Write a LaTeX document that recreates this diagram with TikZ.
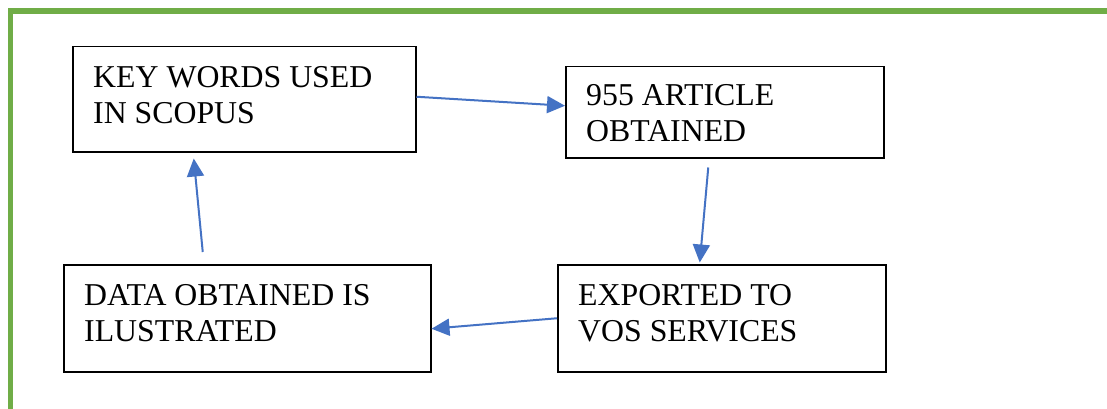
\documentclass[tikz,border=0pt]{standalone}
\usepackage{fontspec}
\setmainfont{Liberation Serif}
\usetikzlibrary{arrows.meta}
\definecolor{framegreen}{HTML}{70AD47}
\definecolor{arrowblue}{HTML}{4472C4}
\begin{document}
\begin{tikzpicture}[x=1pt,y=-1pt,
  stepbox/.style={draw=black,line width=1.5pt,rectangle,inner sep=0pt,anchor=north west},
  boxtext/.style={anchor=north west,inner sep=0pt,align=left,font=\fontsize{31.8}{36}\selectfont},
  flow/.style={draw=arrowblue,line width=2pt,-{Triangle[length=18pt,width=17pt]}}]
\useasboundingbox (0,0) rectangle (1107,409);
\fill[white] (0,0) rectangle (1107,409);
% green frame (top and left)
\draw[framegreen,line width=5.5pt] (10.7,420) -- (10.7,11.2) -- (1120,11.2);
% boxes
\node[stepbox,minimum width=343pt,minimum height=105pt] (b1) at (72,46) {};
\node[stepbox,minimum width=318pt,minimum height=91pt] (b2) at (565,66) {};
\node[stepbox,minimum width=328pt,minimum height=107pt] (b3) at (557,264) {};
\node[stepbox,minimum width=367pt,minimum height=107pt] (b4) at (63,264) {};
% texts
\node[boxtext] (t1) at (93,66) {KEY WORDS USED\\IN SCOPUS};
\node[boxtext] (t2) at (586,84) {955 ARTICLE\\OBTAINED};
\node[boxtext] (t3) at (578,284) {EXPORTED TO\\VOS SERVICES};
\node[boxtext] (t4) at (84,284) {DATA OBTAINED IS\\ILUSTRATED};
% connectors
\coordinate (s2) at ([xshift=-16.5pt,yshift=-9pt]b2.south);
\coordinate (s4) at ([xshift=-44.5pt,yshift=12pt]b4.north);
\coordinate (e4) at ([xshift=-50.5pt,yshift=-6pt]b1.south);
\draw[flow] ([yshift=2.5pt]b1.east) -- ([yshift=6.5pt]b2.west);
\draw[flow] (s2) -- ([xshift=-22pt,yshift=1.5pt]b3.north);
\draw[flow] (b3.west) -- ([yshift=-10.5pt]b4.east);
\draw[flow] (s4) -- (e4);
\end{tikzpicture}
\end{document}
